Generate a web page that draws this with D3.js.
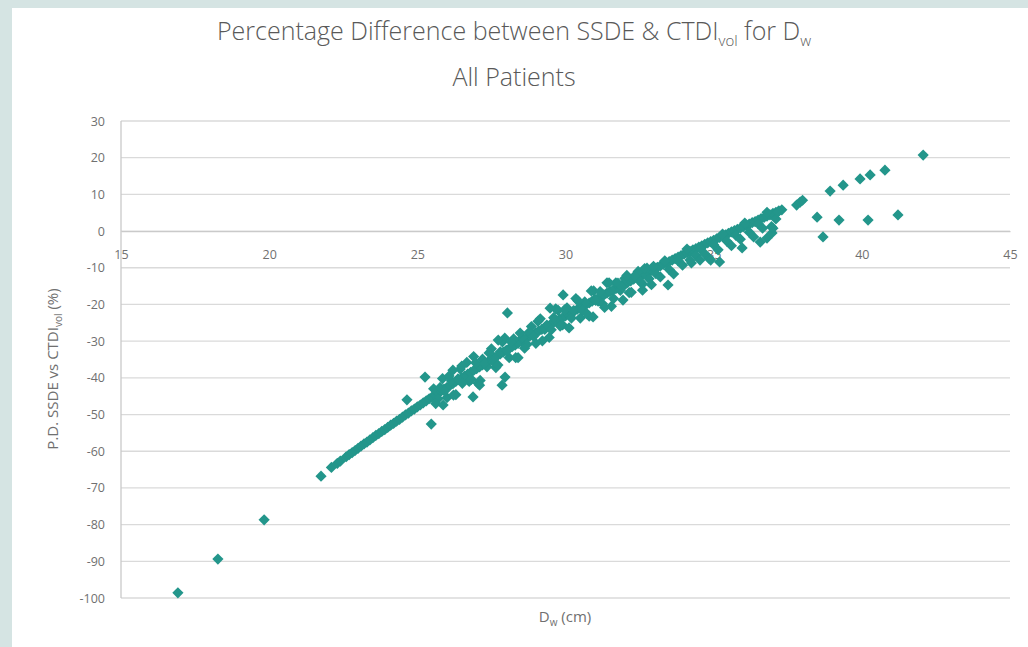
<!DOCTYPE html>
<html><head><meta charset="utf-8">
<script src="https://cdn.jsdelivr.net/npm/d3@7"></script>
<style>
html,body{margin:0;padding:0;background:#d5e4e3;}
svg{display:block;}
</style></head><body>
<svg id="chart" width="1028" height="647"></svg>
<script>
// Axis ticks
const xTicks = [15, 20, 25, 30, 35, 40, 45];
const yTicks = [30, 20, 10, 0, -10, -20, -30, -40, -50, -60, -70, -80, -90, -100];

// Main band of patients: water-equivalent diameter (cm) and percentage difference (%)
const coreDw = [22.3,22.4,22.6,22.7,22.8,22.9,23.0,23.1,23.2,23.3,23.4,23.5,23.6,23.7,23.8,23.9,
  24.0,24.1,24.2,24.3,24.4,24.5,24.6,24.7,24.8,24.9,25.0,25.1,25.2,25.3,25.4,25.5,25.6,25.7,25.8,25.9,
  26.0,26.1,26.2,26.3,26.4,26.5,26.6,26.7,26.8,26.9,27.0,27.1,27.2,27.3,27.4,27.5,27.6,27.7,27.8,27.9,
  28.0,28.1,28.2,28.3,28.4,28.5,28.6,28.7,28.8,28.9,29.0,29.1,29.2,29.3,29.4,29.5,29.6,29.7,29.8,29.9,
  30.0,30.1,30.2,30.3,30.4,30.5,30.6,30.7,30.8,30.9,31.0,31.1,31.2,31.3,31.4,31.5,31.6,31.7,31.8,31.9,
  32.0,32.1,32.2,32.3,32.4,32.5,32.6,32.7,32.8,32.9,33.0,33.1,33.2,33.3,33.4,33.5,33.6,33.7,33.8,33.9,
  34.0,34.1,34.2,34.3,34.4,34.5,34.6,34.7,34.8,34.9,35.0,35.1,35.2,35.3,35.4,35.5,35.6,35.7,35.8,35.9,
  36.0,36.1,36.2,36.3,36.4,36.5,36.6,36.7,36.8,36.9,37.0,37.1,37.2,37.3];
const corePd = [-63.3,-62.7,-61.5,-60.9,-60.4,-59.8,-59.2,-58.6,-58.0,-57.5,-56.9,-56.3,-55.7,-55.2,-54.6,-54.1,
  -53.5,-52.9,-52.4,-51.8,-51.3,-50.7,-50.1,-49.6,-49.0,-48.5,-47.9,-47.4,-46.8,-46.3,-45.7,-45.2,-44.7,-44.2,-43.6,-43.1,
  -42.6,-42.1,-41.6,-41.0,-40.5,-40.0,-39.5,-39.0,-38.5,-38.0,-37.5,-37.0,-36.5,-36.0,-35.5,-35.0,-34.5,-34.0,-33.5,-33.0,
  -32.5,-32.0,-31.5,-31.1,-30.6,-30.1,-29.6,-29.1,-28.6,-28.2,-27.7,-27.2,-26.8,-26.3,-25.9,-25.4,-24.9,-24.5,-24.0,-23.6,
  -23.1,-22.7,-22.2,-21.8,-21.3,-20.9,-20.5,-20.0,-19.6,-19.1,-18.7,-18.3,-17.8,-17.4,-16.9,-16.5,-16.1,-15.7,-15.2,-14.8,
  -14.4,-14.0,-13.6,-13.1,-12.7,-12.3,-11.9,-11.5,-11.1,-10.7,-10.3,-9.9,-9.5,-9.1,-8.7,-8.3,-7.9,-7.5,-7.1,-6.7,
  -6.3,-5.9,-5.5,-5.1,-4.8,-4.4,-4.0,-3.6,-3.2,-2.9,-2.5,-2.1,-1.7,-1.3,-1.0,-0.6,-0.2,0.1,0.5,0.8,
  1.2,1.6,1.9,2.3,2.6,3.0,3.4,3.7,4.1,4.4,4.8,5.1,5.5,5.8];

// Patients scattered through the width of the band
const spreadDw = [25.55,25.70,25.85,26.00,26.15,26.30,26.45,26.60,26.75,26.90,27.05,27.20,27.35,27.50,27.65,27.80,
  27.95,28.10,28.25,28.40,28.55,28.70,28.85,29.00,29.15,29.30,29.45,29.60,29.75,29.90,
  30.05,30.20,30.35,30.50,30.65,30.80,30.95,31.10,31.25,31.40,31.55,31.70,31.85,32.00,32.15,32.30,32.45,32.60,32.75,32.90,
  33.05,33.20,33.35,33.50,33.65,33.80,33.95,34.10,34.25,34.40,34.55,34.70,34.85,35.00,35.15,35.30,35.45,35.60,35.75,35.90,
  36.05,36.20,36.35,36.50,36.65,36.80,36.95,37.10,
  25.62,25.77,25.92,26.07,26.22,26.37,26.52,26.67,26.82,26.97,27.12,27.27,27.42,27.57,27.72,27.87,28.02,28.17,28.32,28.47,
  28.62,28.77,28.92,29.07,29.22,29.37,29.52,29.67,29.82,29.97,30.12,30.27,30.42,30.57,30.72,30.87,31.02,31.17,31.32,31.47,
  31.62,31.77,31.92,32.07,32.22,32.37,32.52,32.67,32.82,32.97];
const spreadPd = [-43.0,-45.7,-40.2,-45.4,-40.8,-44.6,-37.6,-40.3,-41.0,-34.2,-41.5,-34.9,-37.0,-32.1,-37.2,-32.9,
  -29.2,-34.5,-29.4,-34.5,-29.0,-30.9,-26.0,-30.6,-23.9,-26.8,-29.0,-23.6,-21.6,-25.6,
  -20.9,-23.7,-18.4,-23.7,-19.3,-23.2,-16.3,-19.1,-19.8,-14.1,-20.5,-14.1,-16.2,-12.9,-16.8,-12.5,-11.0,-14.4,-10.1,-14.6,
  -11.6,-12.5,-8.1,-10.5,-11.7,-8.1,-9.3,-4.9,-8.7,-6.6,-4.8,-6.2,-7.5,-3.7,-5.1,-0.8,-2.8,-4.0,-1.2,-2.2,
  2.2,-0.3,-1.6,2.0,0.8,5.1,1.2,3.3,
  -47.0,-42.6,-43.6,-39.5,-44.7,-40.3,-41.5,-35.8,-40.4,-35.9,-40.7,-36.0,-33.2,-35.7,-36.5,-30.2,-32.7,-30.2,-34.5,-27.8,
  -31.9,-27.6,-28.7,-24.6,-29.9,-25.6,-26.9,-21.2,-25.9,-21.5,-26.4,-21.7,-19.0,-21.6,-22.5,-16.3,-18.9,-16.5,-20.8,-14.1,
  -18.4,-14.2,-15.3,-12.1,-16.7,-12.4,-13.8,-10.2,-13.0,-9.6];

// Individual patients away from the band
const sparseDw = [16.92,18.27,19.83,21.75,22.1,24.65,25.26,25.47,25.87,26.2,26.5,26.88,27.1,27.73,27.86,27.96,28.04,
  29.48,29.92,30.93,31.94,32.6,33.46,34.2,34.54,34.9,35.2,35.96,36.57,36.8,36.97,37.0,37.17,37.8,37.92,38.0,
  38.49,38.69,38.93,39.23,39.37,39.94,40.21,40.28,40.78,41.22,42.07];
const sparsePd = [-98.6,-89.4,-78.7,-66.8,-64.4,-46.0,-39.8,-52.6,-47.4,-37.9,-36.8,-45.2,-42.0,-29.7,-42.0,-39.8,-22.3,
  -21.0,-17.4,-23.4,-18.8,-16.1,-14.7,-7.9,-7.9,-7.9,-8.4,-4.6,-3.0,-1.9,-0.5,0.8,5.2,7.1,7.9,8.4,
  3.8,-1.6,10.9,3.0,12.5,14.2,3.0,15.3,16.6,4.4,20.7];

const points = [];
coreDw.forEach((d, i) => points.push([d, corePd[i]]));
spreadDw.forEach((d, i) => points.push([d, spreadPd[i]]));
sparseDw.forEach((d, i) => points.push([d, sparsePd[i]]));

const W = 1028, H = 647;
const svg = d3.select("#chart");
const titleColor = "#595959";
const labelColor = "#707070";
const font = "'Open Sans', 'Noto Sans', sans-serif";

// Frame: pale surround with white chart area
svg.append("rect").attr("width", W).attr("height", H).attr("fill", "#d5e4e3");
svg.append("rect").attr("x", 12).attr("y", 8).attr("width", W - 12).attr("height", H - 8).attr("fill", "#ffffff");

const x = d3.scaleLinear().domain([15, 45]).range([121, 1010]);
const y = d3.scaleLinear().domain([-100, 30]).range([598, 121]);

// Horizontal gridlines
svg.append("g")
  .selectAll("line").data(yTicks).join("line")
  .attr("x1", x(15)).attr("x2", x(45))
  .attr("y1", d => y(d)).attr("y2", d => y(d))
  .attr("stroke", "#dadada").attr("stroke-width", 1.3);

// Vertical axis line
svg.append("line")
  .attr("x1", x(15)).attr("x2", x(15)).attr("y1", y(30)).attr("y2", y(-100))
  .attr("stroke", "#cacaca").attr("stroke-width", 1.3);

// Y axis labels
const yAxis = svg.append("g").attr("transform", `translate(${x(15)},0)`)
  .call(d3.axisLeft(y).tickValues(yTicks).tickSize(0).tickPadding(16).tickFormat(d => String(d)));
yAxis.select(".domain").remove();
yAxis.selectAll("text").attr("fill", labelColor).style("font-family", font).style("font-size", "12.5px");

// X axis along the zero line
const xAxis = svg.append("g").attr("transform", `translate(0,${y(0)})`)
  .call(d3.axisBottom(x).tickValues(xTicks).tickSize(0).tickPadding(19).tickFormat(d => String(d)));
xAxis.select(".domain").attr("stroke", "#cacaca").attr("stroke-width", 1.3);
xAxis.selectAll("text").attr("fill", labelColor).style("font-family", font).style("font-size", "12.5px");

// Diamond markers
const diamond = "M0,-5.6L5.6,0L0,5.6L-5.6,0Z";
svg.append("g")
  .selectAll("path").data(points).join("path")
  .attr("d", diamond)
  .attr("transform", d => `translate(${x(d[0])},${y(d[1])})`)
  .attr("fill", "#23968b");

// Title
const title = svg.append("text")
  .attr("x", 514).attr("y", 40)
  .attr("text-anchor", "middle")
  .attr("fill", titleColor)
  .style("font-family", font).style("font-size", "25px").style("font-weight", 300);
title.append("tspan").text("Percentage Difference between SSDE & CTDI");
title.append("tspan").attr("dy", 6).style("font-size", "15px").text("vol");
title.append("tspan").attr("dy", -6).text(" for D");
title.append("tspan").attr("dy", 6).style("font-size", "15px").text("w");

svg.append("text")
  .attr("x", 514).attr("y", 86)
  .attr("text-anchor", "middle")
  .attr("fill", titleColor)
  .style("font-family", font).style("font-size", "25px").style("font-weight", 300)
  .text("All Patients");

// Y axis title
const yTitle = svg.append("text")
  .attr("transform", "translate(58,369) rotate(-90)")
  .attr("text-anchor", "middle")
  .attr("fill", labelColor)
  .style("font-family", font).style("font-size", "15px");
yTitle.append("tspan").text("P.D. SSDE vs CTDI");
yTitle.append("tspan").attr("dy", 4).style("font-size", "10px").text("vol");
yTitle.append("tspan").attr("dy", -4).text(" (%)");

// X axis title
const xTitle = svg.append("text")
  .attr("x", 565).attr("y", 622)
  .attr("text-anchor", "middle")
  .attr("fill", labelColor)
  .style("font-family", font).style("font-size", "15px");
xTitle.append("tspan").text("D");
xTitle.append("tspan").attr("dy", 4).style("font-size", "10px").text("w");
xTitle.append("tspan").attr("dy", -4).text(" (cm)");
</script>
</body></html>
